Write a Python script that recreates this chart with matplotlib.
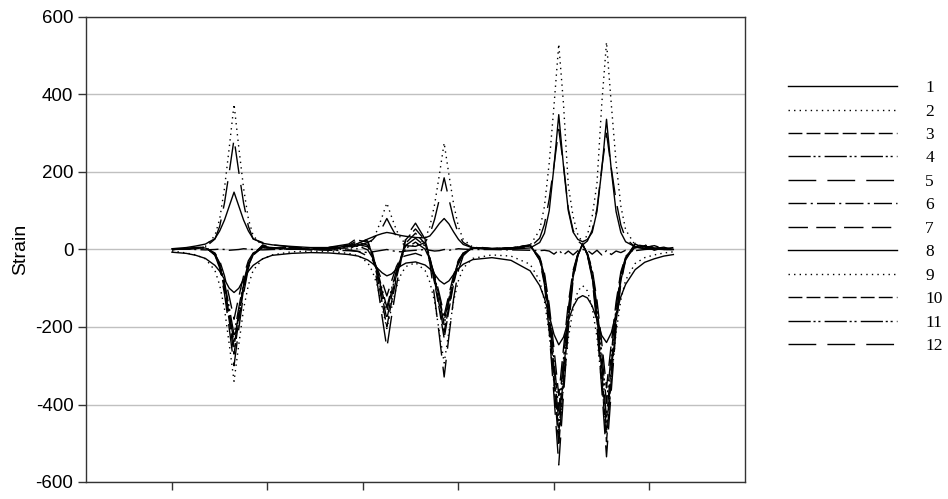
import matplotlib
matplotlib.use('Agg')
import matplotlib.pyplot as plt

plt.rcParams['axes.unicode_minus'] = False

# positions along the beam (axis runs 0..69, ticks every 10 from 9)
x = [9, 10.5, 11.5, 12.5, 13.5, 14, 14.5, 15, 15.5, 16, 16.5, 17, 17.5, 18.5, 19.5, 21.5, 23.5, 25.5, 27.5, 28.5,
     29.5, 30, 30.5, 31, 31.5, 32, 32.5, 33, 33.5, 34.5, 35.5, 36, 36.5, 37, 37.5, 38, 38.5, 39, 39.5, 40.5,
     42.5, 44.5, 46.5, 47.5, 48, 48.5, 49, 49.5, 50, 50.5, 51, 51.5, 52, 52.5, 53, 53.5, 54, 54.5, 55, 55.5,
     56, 56.5, 57.5, 58.5, 59.5, 60.5, 61.5]

s1 = [-7, -10, -15, -23, -41, -56, -77, -100, -111, -100, -77, -56, -41, -24, -15, -10, -8, -9, -13, -17,
      -27, -36, -48, -60, -68, -63, -51, -42, -35, -32, -40, -50, -64, -80, -89, -81, -64, -49, -38, -26,
      -21, -28, -55, -93, -126, -170, -219, -246, -226, -184, -148, -126, -119, -125, -146, -181, -222, -240, -215, -166,
      -122, -90, -52, -33, -24, -17, -13]
s2 = [-4, -9, -14, -24, -54, -92, -153, -245, -340, -245, -153, -92, -54, -24, -14, -6, -4, -5, -10, -16,
      -34, -57, -93, -148, -204, -150, -97, -63, -44, -34, -54, -84, -135, -213, -293, -211, -132, -80, -48, -23,
      -14, -17, -38, -80, -133, -218, -347, -481, -353, -230, -152, -107, -93, -107, -150, -226, -346, -472, -340, -214,
      -130, -79, -36, -21, -14, -9, -6]
s3 = [0, 2, 4, 6, -14, -43, -103, -184, -270, -184, -103, -43, -14, 12, 3, 6, 0, 5, 11, 24,
      19, -9, -60, -122, -179, -121, -66, -18, 26, 53, 24, -20, -81, -145, -214, -146, -82, -34, -11, 5,
      2, 4, 11, -26, -82, -192, -344, -506, -341, -186, -72, -15, 15, -14, -70, -182, -334, -496, -337, -188,
      -80, -25, 14, 4, 10, 2, 5]
s4 = [0, 2, 3, 5, -11, -35, -84, -150, -220, -150, -84, -35, -11, 10, 2, 7, 0, 2, 4, 9,
      -1, -21, -59, -109, -159, -108, -59, -22, 3, 19, 1, -26, -73, -132, -194, -133, -74, -31, -10, 4,
      2, 3, 9, -21, -67, -159, -284, -417, -281, -154, -59, -12, 12, -11, -56, -146, -267, -397, -270, -151,
      -64, -20, 4, 10, -2, 5, 0]
s5 = [0, 2, 5, 7, -15, -48, -114, -204, -300, -204, -114, -48, -15, 7, 5, 1, 0, 6, 14, 31,
      22, -16, -87, -173, -254, -172, -94, -27, 32, 68, 27, -35, -123, -223, -329, -224, -125, -53, -16, 7,
      3, 4, 12, -28, -90, -211, -378, -556, -374, -205, -79, -16, 16, -15, -75, -197, -360, -535, -364, -203,
      -86, -27, 12, 8, 4, 2, 0]
s6 = [2, 1, 0, -1, 0, 1, 0, -2, -1, 0, 2, 1, 0, -1, 0, 1, 0, -2, -3, -5,
      -8, -6, -4, -2, 0, -3, -5, -6, -4, -2, 0, -2, -4, -3, 0, -2, 0, 2, 1, 0,
      0, -1, -2, -3, -2, -4, -12, -2, -14, -4, -14, -3, 0, -2, -12, -2, -14, -3, -13, -4,
      -8, -2, -3, 0, 2, 0, 1]
s7 = [0, 1, 3, 4, -9, -29, -68, -122, -180, -122, -68, -29, -9, 4, 3, 1, 0, -1, -1, -5,
      -17, -27, -49, -82, -120, -81, -44, -20, -16, -10, -19, -30, -64, -115, -170, -116, -65, -27, -9, 4,
      1, 3, 8, -19, -61, -143, -256, -377, -254, -139, -54, -11, 11, -10, -50, -131, -240, -357, -243, -136,
      -58, -18, 8, 5, 3, 1, 0]
s8 = [2, 5, 9, 14, 28, 48, 76, 112, 148, 112, 76, 48, 28, 16, 12, 8, 5, 5, 8, 16,
      27, 32, 37, 41, 44, 42, 39, 36, 34, 31, 30, 35, 50, 67, 80, 66, 45, 26, 13, 4,
      1, 1, 4, 18, 42, 100, 214, 348, 214, 100, 45, 26, 20, 26, 44, 98, 205, 336, 205, 98,
      44, 20, 7, 3, 1, 0, 0]
s9 = [1, 2, 3, 8, 36, 79, 158, 263, 375, 263, 158, 79, 36, 8, 3, 1, 0, 0, 1, 2,
      11, 25, 50, 84, 120, 84, 50, 27, 14, 8, 27, 59, 116, 193, 275, 193, 116, 58, 26, 6,
      1, 2, 11, 50, 111, 223, 371, 530, 374, 165, 85, 38, 18, 38, 86, 170, 375, 535, 375, 225,
      112, 51, 11, 4, 2, 1, 0]
s10 = [0, 2, 4, 6, -13, -40, -95, -170, -250, -170, -95, -40, -13, 6, 4, 1, 0, 4, 9, 19,
       11, -17, -70, -136, -199, -135, -74, -23, 17, 42, 15, -26, -86, -155, -229, -156, -87, -37, -12, 5,
       2, 4, 11, -24, -77, -181, -324, -476, -321, -175, -67, -14, 14, -13, -66, -171, -314, -466, -317, -177,
       -75, -24, 16, 6, 9, 0, 3]
s11 = [0, 2, 4, 5, -12, -38, -91, -163, -240, -163, -91, -38, -12, 5, 4, 1, 0, 3, 6, 13,
       7, -14, -53, -102, -149, -101, -55, -18, 11, 29, 9, -22, -69, -125, -185, -126, -70, -30, -9, 4,
       2, 4, 10, -23, -72, -170, -304, -446, -301, -164, -63, -13, 13, -12, -61, -160, -294, -436, -297, -166,
       -70, -22, 6, 12, 2, 6, -1]
s12 = [1, 1, 2, 6, 27, 60, 120, 200, 285, 200, 120, 60, 27, 18, 12, 6, 3, 3, 5, 10,
       18, 25, 39, 56, 80, 56, 34, 18, 10, 8, 18, 39, 78, 130, 185, 130, 78, 39, 18, 4,
       1, 1, 6, 29, 65, 130, 217, 310, 217, 105, 50, 22, 12, 22, 50, 105, 210, 300, 210, 126,
       63, 29, 6, 2, 1, 0, 0]

series = [s1, s2, s3, s4, s5, s6, s7, s8, s9, s10, s11, s12]
labels = ['1', '2', '3', '4', '5', '6', '7', '8', '9', '10', '11', '12']

# excel style line patterns, repeating after 7
styles = ['-', (0, (1, 3)), (0, (10, 3)), (0, (16, 2, 1.5, 2, 1.5, 3)), (0, (20, 8)),
          (0, (13, 3, 1.5, 3)), (0, (14, 6))]

fig = plt.figure(figsize=(9.48, 4.99), dpi=100)
ax = fig.add_axes([86 / 948, 1 - 482 / 499, (745 - 86) / 948, (482 - 17) / 499])

for i in range(len(series)):
    ax.plot(x, series[i], color='black', lw=1.0, linestyle=styles[i % 7], label=labels[i])

ax.set_xlim(0, 69)
ax.set_ylim(-600, 600)
ax.set_xticks([9, 19, 29, 39, 49, 59])
ax.set_xticklabels([])
ax.set_yticks([-600, -400, -200, 0, 200, 400, 600])
ax.grid(axis='y', color='#c0c0c0', lw=1)
ax.set_axisbelow(True)
ax.tick_params(axis='both', direction='out', length=6, width=1, color='#333333')
ax.tick_params(axis='y', labelsize=13.5, pad=3)
for lab in ax.get_yticklabels():
    lab.set_family('Liberation Sans')
for sp in ax.spines.values():
    sp.set_color('#333333')
    sp.set_linewidth(1)
ax.set_ylabel('Strain', fontsize=14, family='Liberation Sans', labelpad=5)

fig.legend(loc='upper left', bbox_to_anchor=(788 / 948, 1 - 80 / 499), frameon=False,
           prop={'family': 'Liberation Serif', 'size': 12.5}, handlelength=6.3,
           handletextpad=1.6, labelspacing=0.42, borderpad=0, borderaxespad=0)

fig.savefig('out.png', dpi=100)
